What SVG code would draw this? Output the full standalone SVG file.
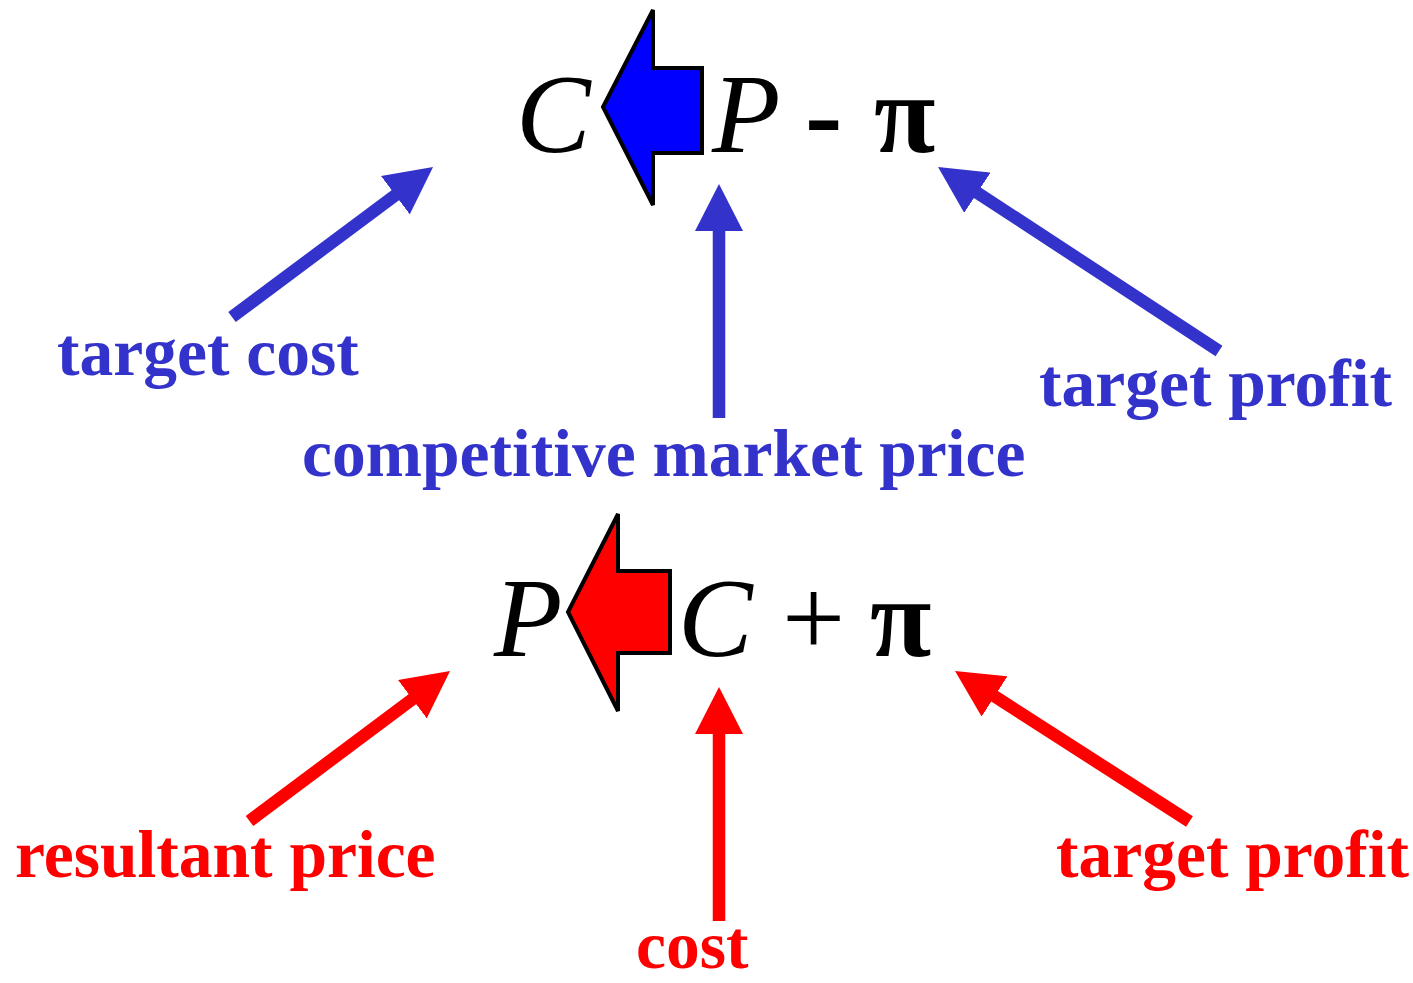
<svg xmlns="http://www.w3.org/2000/svg" width="1413" height="983" viewBox="0 0 1413 983">
<style>
.math{font-family:"Liberation Serif","Times New Roman",serif;font-size:112px;fill:#000}
.it{font-style:italic}
.lbl{font-family:"Liberation Serif","Times New Roman",serif;font-size:67.5px;font-weight:bold}
.blue{fill:#3333CC}
.red{fill:#FF0000}
.lb{stroke:#3333CC;stroke-width:12.5;fill:none}
.lr{stroke:#FF0000;stroke-width:12.5;fill:none}
.blk{stroke:#000;stroke-width:4;stroke-linejoin:miter}
</style>
<defs>
<marker id="hb" markerUnits="userSpaceOnUse" viewBox="0 0 47 48" markerWidth="47" markerHeight="48" refX="7" refY="24" orient="auto"><path d="M0,0 L47,24 L0,48 Z" fill="#3333CC"/></marker>
<marker id="hr" markerUnits="userSpaceOnUse" viewBox="0 0 47 48" markerWidth="47" markerHeight="48" refX="7" refY="24" orient="auto"><path d="M0,0 L47,24 L0,48 Z" fill="#FF0000"/></marker>
</defs>
<rect width="1413" height="983" fill="#fff"/>
<g id="top-formula">
<text class="math it" x="516" y="152">C</text>
<polygon class="blk" fill="#0000FF" points="603,107 653,10 653,68 702,68 702,153 653,153 653,205"/>
<text class="math it" x="712" y="152">P</text>
<text class="math" font-weight="bold" x="805" y="152">-</text>
<text class="math" font-weight="bold" x="874" y="152">π</text>
</g>
<g id="bottom-formula">
<text class="math it" x="494" y="656">P</text>
<polygon class="blk" fill="#FF0000" points="568,612 618,514 618,571 670,571 670,653 618,653 618,711"/>
<text class="math it" x="678" y="656">C</text>
<text class="math" x="782" y="656">+</text>
<text class="math" font-weight="bold" x="870" y="656">π</text>
</g>
<g id="label-target-cost"><text class="lbl blue" x="57" y="375">target cost</text></g>
<g id="label-competitive-market-price"><text class="lbl blue" x="302" y="476">competitive market price</text></g>
<g id="label-target-profit-top"><text class="lbl blue" x="1039" y="406">target profit</text></g>
<g id="label-resultant-price"><text class="lbl red" x="15" y="877">resultant price</text></g>
<g id="label-cost"><text class="lbl red" x="636" y="968">cost</text></g>
<g id="label-target-profit-bottom"><text class="lbl red" x="1056" y="877">target profit</text></g>
<g id="connectors">
<line class="lb" x1="232" y1="317" x2="401" y2="191" marker-end="url(#hb)"/>
<line class="lb" x1="719" y1="418" x2="719" y2="224" marker-end="url(#hb)"/>
<line class="lb" x1="1219" y1="351" x2="971.5" y2="188.9" marker-end="url(#hb)"/>
<line class="lr" x1="249.5" y1="821" x2="418" y2="695" marker-end="url(#hr)"/>
<line class="lr" x1="719" y1="921" x2="719" y2="727" marker-end="url(#hr)"/>
<line class="lr" x1="1189.5" y1="821.5" x2="988.7" y2="692.6" marker-end="url(#hr)"/>
</g>
</svg>
